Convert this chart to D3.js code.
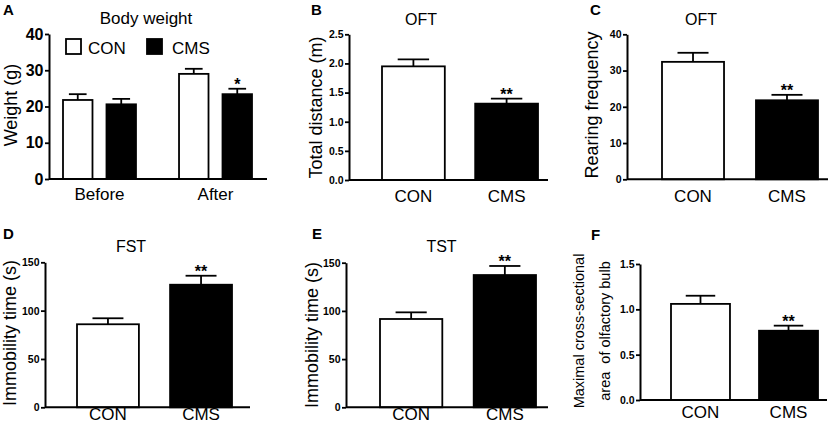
<!DOCTYPE html>
<html><head><meta charset="utf-8">
<script src="https://cdn.jsdelivr.net/npm/d3@7"></script>
<style>
body{margin:0;background:#fff;}
svg{display:block;font-family:"Liberation Sans",Arial,sans-serif;}
</style></head><body>
<svg id="c" width="829" height="431"></svg>
<script>
// ---------- data ----------
const groups = ["CON", "CMS"];
const weightPhases = ["Before", "After"];
const weightCON = [21.8, 29.0];
const weightCONsem = [1.6, 1.4];
const weightCMS = [20.6, 23.4];
const weightCMSsem = [1.5, 1.5];
const weightSig = ["", "*"];
const weightTicks = [0, 10, 20, 30, 40];

const distMean = [1.95, 1.31];
const distSem = [0.12, 0.085];
const distTicks = [0, 0.5, 1.0, 1.5, 2.0, 2.5];

const rearMean = [32.4, 21.8];
const rearSem = [2.5, 1.5];
const rearTicks = [0, 10, 20, 30, 40];

const fstMean = [85.9, 126.8];
const fstSem = [6.2, 9.3];
const fstTicks = [0, 50, 100, 150];

const tstMean = [91.6, 137.2];
const tstSem = [6.9, 9.4];
const tstTicks = [0, 50, 100, 150];

const obMean = [1.06, 0.764];
const obSem = [0.09, 0.056];
const obTicks = [0, 0.5, 1.0, 1.5];

const sigMarks = ["", "**"];

// ---------- drawing ----------
const svg = d3.select("#c");
const fills = { CON: "#fff", CMS: "#000" };
const SW = 1.8;

function yAxis(g, y, ticks, fmt, ax, fontSize) {
  const a = g.append("g").attr("transform", `translate(${ax},0)`)
    .call(d3.axisLeft(y).tickValues(ticks).tickFormat(fmt).tickSize(4).tickSizeOuter(0).tickPadding(1.5));
  a.select(".domain").attr("stroke", "#000").attr("stroke-width", 2);
  a.selectAll(".tick line").attr("stroke", "#000").attr("stroke-width", 1.8);
  a.selectAll(".tick text").attr("fill", "#000").attr("font-weight", "bold")
    .attr("font-size", fontSize).attr("font-family", '"Liberation Sans",Arial,sans-serif');
}

function errBar(g, cx, yTop, yCap, w) {
  g.append("line").attr("x1", cx).attr("x2", cx).attr("y1", yTop).attr("y2", yCap)
    .attr("stroke", "#000").attr("stroke-width", SW);
  g.append("line").attr("x1", cx - w / 2).attr("x2", cx + w / 2).attr("y1", yCap).attr("y2", yCap)
    .attr("stroke", "#000").attr("stroke-width", SW);
}

function star(g, cx, yCap, txt, size) {
  g.append("text").attr("x", cx).attr("y", yCap + 1).attr("text-anchor", "middle")
    .attr("font-size", size).attr("font-weight", "bold").attr("fill", "#000").text(txt);
}

function yLabel(g, lines, x0, dx, cy, size) {
  lines.forEach((t, i) => {
    g.append("text").attr("transform", `translate(${x0 + i * dx},${cy}) rotate(-90)`)
      .attr("text-anchor", "middle").attr("font-size", size).attr("fill", "#000")
      .style("white-space", "pre").text(t);
  });
}

function panel(cfg, means, sems, ticks, fmt) {
  const g = svg.append("g");
  const y = d3.scaleLinear().domain([0, d3.max(ticks)]).range([cfg.yb, cfg.yt]);
  const x = d3.scaleBand().domain(groups).range([cfg.b0, cfg.b1]).paddingInner(cfg.pad).paddingOuter(0);
  groups.forEach((k, i) => {
    g.append("rect").attr("x", x(k)).attr("y", y(means[i]))
      .attr("width", x.bandwidth()).attr("height", y(0) - y(means[i]))
      .attr("fill", fills[k]).attr("stroke", "#000").attr("stroke-width", SW);
    const cx = x(k) + x.bandwidth() / 2;
    errBar(g, cx, y(means[i]), y(means[i] + sems[i]), x.bandwidth() * 0.5);
    if (sigMarks[i]) star(g, cx, y(means[i] + sems[i]), sigMarks[i], 16);
    g.append("text").attr("x", cx).attr("y", cfg.xly).attr("text-anchor", "middle")
      .attr("font-size", 17).attr("fill", "#000").text(k);
  });
  g.append("line").attr("x1", cfg.ax).attr("x2", cfg.x1).attr("y1", y(0)).attr("y2", y(0))
    .attr("stroke", "#000").attr("stroke-width", 2);
  yAxis(g, y, ticks, fmt, cfg.ax, 10.5);
  if (cfg.title) g.append("text").attr("x", cfg.tx).attr("y", cfg.ty).attr("text-anchor", "middle")
    .attr("font-size", 16).attr("fill", "#000").text(cfg.title);
  g.append("text").attr("x", cfg.lx).attr("y", cfg.ly).attr("font-size", 15).attr("font-weight", "bold")
    .attr("fill", "#000").text(cfg.letter);
  yLabel(g, cfg.ylab, cfg.ylx, cfg.yldx || 0, cfg.yly, cfg.ylsize || 18);
}

// Panel A (grouped)
(function () {
  const g = svg.append("g");
  const y = d3.scaleLinear().domain([0, 40]).range([179, 34]);
  const x0 = d3.scaleBand().domain(weightPhases).range([63, 252]).paddingInner(0.371).paddingOuter(0);
  const x1 = d3.scaleBand().domain(groups).range([0, x0.bandwidth()]).paddingInner(0.322).paddingOuter(0);
  const series = { CON: [weightCON, weightCONsem], CMS: [weightCMS, weightCMSsem] };
  weightPhases.forEach((p, j) => {
    groups.forEach(k => {
      const m = series[k][0][j], s = series[k][1][j];
      const bx = x0(p) + x1(k);
      g.append("rect").attr("x", bx).attr("y", y(m)).attr("width", x1.bandwidth())
        .attr("height", y(0) - y(m)).attr("fill", fills[k]).attr("stroke", "#000").attr("stroke-width", SW);
      const cx = bx + x1.bandwidth() / 2;
      errBar(g, cx, y(m), y(m + s), x1.bandwidth() * 0.6);
      if (k === "CMS" && weightSig[j]) star(g, cx, y(m + s), weightSig[j], 16);
    });
    g.append("text").attr("x", x0(p) + x0.bandwidth() / 2).attr("y", 200).attr("text-anchor", "middle")
      .attr("font-size", 17).attr("fill", "#000").text(p);
  });
  g.append("line").attr("x1", 49).attr("x2", 267).attr("y1", y(0)).attr("y2", y(0))
    .attr("stroke", "#000").attr("stroke-width", 2);
  yAxis(g, y, weightTicks, d3.format("d"), 49, 16);
  g.append("text").attr("x", 146).attr("y", 24).attr("text-anchor", "middle").attr("font-size", 17)
    .attr("fill", "#000").text("Body weight");
  g.append("text").attr("x", 3).attr("y", 15).attr("font-size", 15).attr("font-weight", "bold")
    .attr("fill", "#000").text("A");
  yLabel(g, ["Weight (g)"], 16.5, 0, 105, 18);
  // legend
  const leg = [{ k: "CON", bx: 66, tx: 88 }, { k: "CMS", bx: 147, tx: 172 }];
  leg.forEach(d => {
    g.append("rect").attr("x", d.bx).attr("y", 39).attr("width", 15).attr("height", 15)
      .attr("fill", fills[d.k]).attr("stroke", "#000").attr("stroke-width", SW);
    g.append("text").attr("x", d.tx).attr("y", 53.5).attr("font-size", 17).attr("fill", "#000").text(d.k);
  });
})();

const f1 = d3.format(".1f"), fd = d3.format("d");

panel({ yb: 180, yt: 34.3, b0: 382, b1: 538, pad: 0.326, ax: 349, x1: 548, xly: 202,
  title: "OFT", tx: 421, ty: 25, letter: "B", lx: 311, ly: 15,
  ylab: ["Total distance (m)"], ylx: 322, yly: 107.5 }, distMean, distSem, distTicks, f1);

panel({ yb: 179.3, yt: 34.3, b0: 662, b1: 818, pad: 0.34, ax: 627, x1: 828, xly: 202,
  title: "OFT", tx: 701, ty: 25, letter: "C", lx: 590, ly: 15,
  ylab: ["Rearing frequency"], ylx: 598, yly: 105 }, rearMean, rearSem, rearTicks, fd);

panel({ yb: 407.3, yt: 262.3, b0: 77, b1: 232, pad: 0.335, ax: 45, x1: 250, xly: 420,
  title: "FST", tx: 131, ty: 252, letter: "D", lx: 3, ly: 239,
  ylab: ["Immobility time (s)"], ylx: 15.5, yly: 333 }, fstMean, fstSem, fstTicks, fd);

panel({ yb: 407.3, yt: 262.7, b0: 380, b1: 536, pad: 0.335, ax: 346, x1: 548, xly: 420,
  title: "TST", tx: 441.5, ty: 252, letter: "E", lx: 312, ly: 239,
  ylab: ["Immobility time (s)"], ylx: 318, yly: 335 }, tstMean, tstSem, tstTicks, fd);

panel({ yb: 400, yt: 264, b0: 671, b1: 818, pad: 0.33, ax: 640, x1: 827, xly: 418,
  title: null, letter: "F", lx: 591, ly: 240,
  ylab: ["Maximal cross-sectional", "area  of olfactory bulb"], ylx: 584, yldx: 25.5, yly: 331, ylsize: 14.5 },
  obMean, obSem, obTicks, f1);
</script>
</body></html>
